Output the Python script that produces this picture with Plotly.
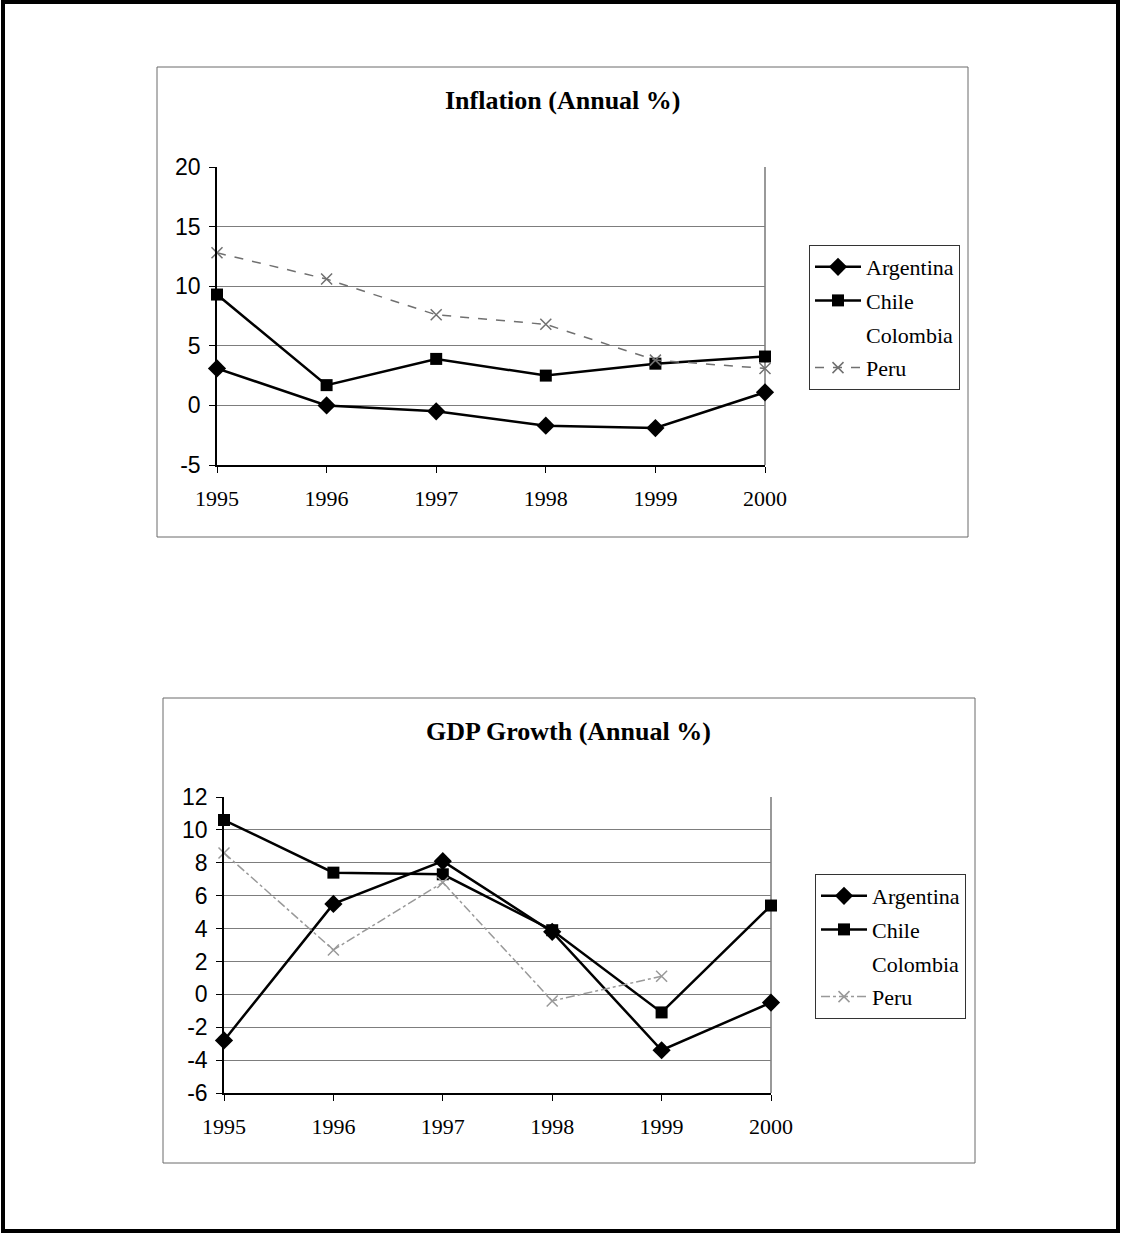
import plotly.graph_objects as go

# ---- data ----
years = [1995, 1996, 1997, 1998, 1999, 2000]

infl_argentina = [3.1, 0.0, -0.5, -1.7, -1.9, 1.1]
infl_chile = [9.3, 1.7, 3.9, 2.5, 3.5, 4.1]
infl_colombia = [None, None, None, None, None, None]
infl_peru = [12.8, 10.6, 7.6, 6.8, 3.8, 3.1]

gdp_argentina = [-2.8, 5.5, 8.1, 3.8, -3.4, -0.5]
gdp_chile = [10.6, 7.4, 7.3, 3.9, -1.1, 5.4]
gdp_colombia = [None, None, None, None, None, None]
gdp_peru = [8.6, 2.7, 6.8, -0.4, 1.1, None]

infl_ticks = [-5, 0, 5, 10, 15, 20]
infl_ticktext = ["-5", "0", "5", "10", "15", "20"]
gdp_ticks = [-6, -4, -2, 0, 2, 4, 6, 8, 10, 12]
gdp_ticktext = ["-6", "-4", "-2", "0", "2", "4", "6", "8", "10", "12"]

W, H = 1121, 1234
SERIF = "Liberation Serif, Times New Roman, serif"
SANS = "Liberation Sans, Arial, sans-serif"


def px(x):
    return x / W


def py(y):
    return 1 - y / H


fig = go.Figure()


def add_series(xa, ya, legend, arg, chi, col, per, peru_color, peru_dash):
    common = dict(x=years, xaxis=xa, yaxis=ya, legend=legend, mode="lines+markers",
                  cliponaxis=False)
    fig.add_trace(go.Scatter(y=arg, name="Argentina", legendgroup=legend + "a",
                             line=dict(color="black", width=2.5),
                             marker=dict(symbol="diamond", size=14, color="black"), **common))
    fig.add_trace(go.Scatter(y=chi, name="Chile", legendgroup=legend + "c",
                             line=dict(color="black", width=2.5),
                             marker=dict(symbol="square", size=12, color="black"), **common))
    fig.add_trace(go.Scatter(y=col, name="Colombia", legendgroup=legend + "o",
                             line=dict(color="rgba(0,0,0,0)", width=1),
                             marker=dict(color="rgba(0,0,0,0)", size=1), **common))
    fig.add_trace(go.Scatter(y=per, name="Peru", legendgroup=legend + "p",
                             line=dict(color=peru_color, width=1.5, dash=peru_dash),
                             marker=dict(symbol="x-thin-open", size=11,
                                         line=dict(color="#444", width=1.5)), **common))


add_series("x", "y", "legend", infl_argentina, infl_chile, infl_colombia, infl_peru,
           "#707070", "dash")
add_series("x2", "y2", "legend2", gdp_argentina, gdp_chile, gdp_colombia, gdp_peru,
           "#999999", "dashdot")

xaxis_style = dict(
    range=[1995, 2000], tickvals=years, ticktext=[str(y) for y in years],
    showgrid=False, zeroline=False, showline=True, linecolor="black", linewidth=1.5,
    ticks="outside", ticklen=6, tickcolor="black", tickwidth=1, automargin=False,
    tickfont=dict(family=SERIF, size=22, color="black"), ticklabelstandoff=7,
)
yaxis_style = dict(
    showgrid=True, gridcolor="#7d7d7d", gridwidth=1, zeroline=False,
    showline=True, linecolor="black", linewidth=1.5, automargin=False,
    ticks="outside", ticklen=6, tickcolor="black", tickwidth=1,
    tickfont=dict(family=SANS, size=23, color="black"), ticklabelstandoff=4,
)

legend_style = dict(
    xanchor="left", yanchor="top", bordercolor="#333", borderwidth=1, bgcolor="white",
    font=dict(family=SERIF, size=22, color="black"),
    itemwidth=46, tracegroupgap=2, traceorder="grouped",
)

fig.update_layout(
    width=W, height=H, margin=dict(l=0, r=0, t=0, b=0, autoexpand=False),
    paper_bgcolor="white", plot_bgcolor="white",
    xaxis=dict(domain=[px(217), px(765)], anchor="y", **xaxis_style),
    yaxis=dict(domain=[py(465), py(167)], anchor="x", range=[-5, 20],
               tickvals=infl_ticks, ticktext=infl_ticktext, **yaxis_style),
    xaxis2=dict(domain=[px(224), px(771)], anchor="y2", **xaxis_style),
    yaxis2=dict(domain=[py(1093), py(797)], anchor="x2", range=[-6, 12],
                tickvals=gdp_ticks, ticktext=gdp_ticktext, **yaxis_style),
    legend=dict(x=px(809), y=py(245), **legend_style),
    legend2=dict(x=px(815), y=py(874), **legend_style),
    showlegend=True,
)

# chart titles
for text, cx, cy in [("Inflation (Annual %)", 563, 100), ("GDP Growth (Annual %)", 568, 732)]:
    fig.add_annotation(text="<b>%s</b>" % text, x=px(cx), y=py(cy), xref="paper", yref="paper",
                       xanchor="center", yanchor="middle", showarrow=False,
                       font=dict(family=SERIF, size=26, color="black"))

# right edge of each plot area
for xa, ya in [("x", "y"), ("x2", "y2")]:
    fig.add_shape(type="line", xref=xa + " domain", yref=ya + " domain",
                  x0=1, x1=1, y0=0, y1=1, line=dict(color="#555", width=1.2), layer="below")

# chart frames and page border
for x0, y0, x1, y1 in [(157, 67, 968, 537), (163, 698, 975, 1163)]:
    fig.add_shape(type="rect", xref="paper", yref="paper",
                  x0=px(x0), x1=px(x1), y0=py(y1), y1=py(y0),
                  line=dict(color="#6a6a6a", width=1))
fig.add_shape(type="rect", xref="paper", yref="paper",
              x0=px(3), x1=px(1118), y0=py(1231), y1=py(2),
              line=dict(color="black", width=4))

fig.write_html("out.html")
